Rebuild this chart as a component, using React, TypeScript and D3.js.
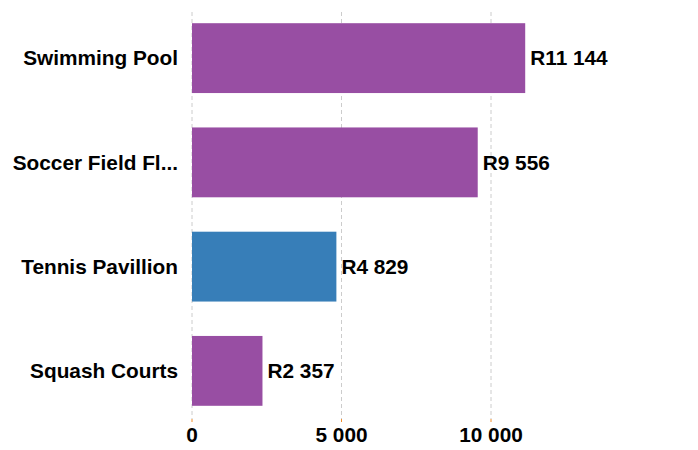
import React from 'react';
import * as d3 from 'd3';

const categories = ['Swimming Pool', 'Soccer Field Fl...', 'Tennis Pavillion', 'Squash Courts'];
const values = [11144, 9556, 4829, 2357];
const colors = ['#984ea3', '#984ea3', '#377eb8', '#984ea3'];
const ticks = [0, 5000, 10000];

const W = 698;
const H = 450;

const fmt = (v: number) => d3.format(',')(v).replace(/,/g, ' ');

export default function App() {
  const x = d3.scaleLinear().domain([0, 10000]).range([192, 491]);
  const y = d3
    .scaleBand<string>()
    .domain(categories)
    .range([6, 423])
    .paddingInner(0.33)
    .paddingOuter(0.165);

  const font = 'Arial, "Liberation Sans", Helvetica, sans-serif';
  const fs = 20.8;

  return (
    <svg width={W} height={H} style={{ position: 'absolute', left: 0, top: 0 }}>
      <rect width={W} height={H} fill="#fff" />
      {ticks.map((t) => (
        <g key={t}>
          <line
            x1={x(t)}
            x2={x(t)}
            y1={12}
            y2={419}
            stroke="#cccccc"
            strokeDasharray="4,3"
            strokeWidth={1}
          />
          <line x1={x(t)} x2={x(t)} y1={419} y2={422} stroke="#f28e2b" strokeWidth={1} />
          <text
            x={x(t)}
            y={442}
            textAnchor="middle"
            fontFamily={font}
            fontWeight="bold"
            fontSize={fs}
            fill="#000"
          >
            {fmt(t)}
          </text>
        </g>
      ))}
      {categories.map((c, i) => {
        const yy = y(c)!;
        const bw = y.bandwidth();
        return (
          <g key={c}>
            <rect x={x(0)} y={yy} width={x(values[i]) - x(0)} height={bw} fill={colors[i]} />
            <text
              x={178}
              y={yy + bw / 2}
              dy="0.35em"
              textAnchor="end"
              fontFamily={font}
              fontWeight="bold"
              fontSize={fs}
              fill="#000"
            >
              {c}
            </text>
            <text
              x={x(values[i]) + 5}
              y={yy + bw / 2}
              dy="0.35em"
              fontFamily={font}
              fontWeight="bold"
              fontSize={fs}
              fill="#000"
            >
              {'R' + fmt(values[i])}
            </text>
          </g>
        );
      })}
    </svg>
  );
}
